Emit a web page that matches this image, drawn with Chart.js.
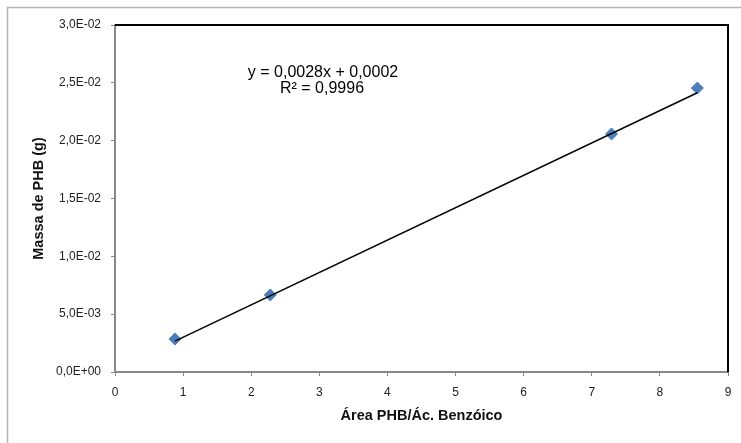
<!DOCTYPE html>
<html>
<head>
<meta charset="utf-8">
<script src="https://cdn.jsdelivr.net/npm/chart.js@4"></script>
<style>
  html, body { margin: 0; padding: 0; background: #fff; }
  #wrap { width: 741px; height: 443px; }
</style>
</head>
<body>
<div id="wrap"><canvas id="curva"></canvas></div>
<script>
// Curva de calibração PHB
const areaRel = [0.88, 2.28, 7.29, 8.55];
const massaPHB = [0.00285, 0.00666, 0.02058, 0.02455];
const slope = 0.0028;
const intercept = 0.0002;
const equacao = ['y = 0,0028x + 0,0002', 'R\u00b2 = 0,9996'];
const xTicks = [0, 1, 2, 3, 4, 5, 6, 7, 8, 9];
const yTicks = [0, 0.005, 0.01, 0.015, 0.02, 0.025, 0.03];

const pontos = areaRel.map((x, i) => ({ x: x, y: massaPHB[i] }));
const xMin = Math.min(...areaRel), xMax = Math.max(...areaRel);
const tendencia = [
    { x: xMin, y: slope * xMin + intercept },
    { x: xMax, y: slope * xMax + intercept }
];

// formato científico com vírgula: 2,5E-02
function fmtCient(v) {
    const s = Number(v).toExponential(1);
    const partes = s.split('e');
    const exp = parseInt(partes[1], 10);
    const sinal = exp < 0 ? '-' : '+';
    return partes[0].replace('.', ',') + 'E' + sinal + String(Math.abs(exp)).padStart(2, '0');
}

const molduraPlugin = {
    id: 'moldura',
    beforeDraw(chart) {
        const ctx = chart.ctx;
        ctx.save();
        ctx.strokeStyle = '#b5b5b5';
        ctx.lineWidth = 1.5;
        ctx.strokeRect(7.5, 7.5, 760, 460);
        ctx.restore();
    },
    afterDraw(chart) {
        const a = chart.chartArea;
        const ctx = chart.ctx;
        ctx.save();
        // bordas superior e direita
        ctx.strokeStyle = '#000';
        ctx.lineWidth = 2;
        ctx.beginPath();
        ctx.moveTo(a.left, a.top);
        ctx.lineTo(a.right, a.top);
        ctx.lineTo(a.right, a.bottom);
        ctx.stroke();
        // equação da reta
        ctx.fillStyle = '#000';
        ctx.font = '16px "Liberation Sans", Arial, sans-serif';
        ctx.textAlign = 'center';
        ctx.textBaseline = 'middle';
        ctx.fillText(equacao[0], 323, 73);
        ctx.fillText(equacao[1], 322, 89);
        ctx.restore();
    }
};

const fonteTick = { family: '"Liberation Sans", Arial, sans-serif', size: 12 };
const fonteTitulo = { family: '"Liberation Sans", Arial, sans-serif', size: 14.5, weight: 'bold' };

new Chart(document.getElementById('curva').getContext('2d'), {
    type: 'scatter',
    data: {
        datasets: [{
            label: 'Massa',
            data: pontos,
            pointStyle: 'rectRot',
            pointRadius: 6,
            pointHoverRadius: 6,
            backgroundColor: '#4a7ebb',
            borderColor: '#4a7ebb',
            borderWidth: 1,
            order: 1
        }, {
            label: 'Linear',
            data: tendencia,
            showLine: true,
            borderColor: '#000',
            borderWidth: 1.5,
            pointRadius: 0,
            fill: false,
            order: 0
        }]
    },
    options: {
        responsive: true,
        maintainAspectRatio: false,
        animation: false,
        layout: { padding: { left: 0, top: 25, right: 13, bottom: 0 } },
        plugins: {
            legend: { display: false },
            tooltip: { enabled: false }
        },
        scales: {
            x: {
                type: 'linear',
                min: 0,
                max: 9,
                afterFit: s => { s.height = 71; },
                afterBuildTicks: s => { s.ticks = xTicks.map(v => ({ value: v })); },
                grid: { drawOnChartArea: false, color: '#888', tickLength: 4 },
                border: { color: '#888', width: 2 },
                ticks: { color: '#222', font: fonteTick, padding: 9, maxRotation: 0 },
                title: { display: true, text: '\u00c1rea PHB/\u00c1c. Benz\u00f3ico', color: '#111', font: fonteTitulo, padding: { top: 0, bottom: 18 } }
            },
            y: {
                type: 'linear',
                min: 0,
                max: 0.03,
                afterFit: s => { s.width = 115; },
                afterBuildTicks: s => { s.ticks = yTicks.map(v => ({ value: v })); },
                grid: { drawOnChartArea: false, color: '#888', tickLength: 4 },
                border: { color: '#888', width: 2 },
                ticks: { color: '#222', font: fonteTick, padding: 10, callback: v => fmtCient(v) },
                title: { display: true, text: 'Massa de PHB (g)', color: '#111', font: fonteTitulo, padding: { top: 30, bottom: 0 } }
            }
        }
    },
    plugins: [molduraPlugin]
});
</script>
</body>
</html>
